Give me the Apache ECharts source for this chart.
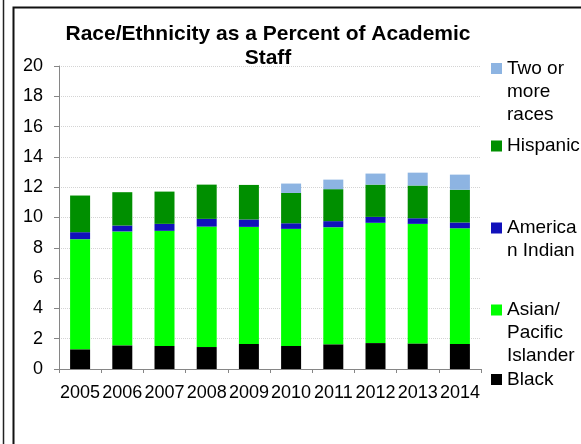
<!DOCTYPE html>
<html>
<head>
<meta charset="utf-8">
<script src="https://cdn.jsdelivr.net/npm/echarts@6/dist/echarts.min.js"></script>
<style>
  html, body { margin: 0; padding: 0; background: #fff; }
  #main { width: 581px; height: 444px; }
</style>
</head>
<body>
<div id="main"></div>
<script>
// data
const years = ['2005', '2006', '2007', '2008', '2009', '2010', '2011', '2012', '2013', '2014'];
const black = [1.30, 1.56, 1.52, 1.45, 1.65, 1.52, 1.63, 1.71, 1.69, 1.65];
const asian = [7.27, 7.52, 7.60, 7.95, 7.73, 7.73, 7.73, 7.94, 7.89, 7.64];
const amIndian = [0.46, 0.39, 0.46, 0.51, 0.49, 0.37, 0.40, 0.39, 0.37, 0.38];
const hispanic = [2.42, 2.20, 2.13, 2.26, 2.28, 2.00, 2.11, 2.13, 2.16, 2.16];
const twoOrMore = [null, null, null, null, null, 0.62, 0.63, 0.73, 0.85, 1.00];
const yTicks = { min: 0, max: 20, interval: 2 };

const font = 'Liberation Sans, Arial, sans-serif';
const colors = {
  black: '#000000',
  asian: '#00ff00',
  amIndian: '#1111bb',
  hispanic: '#008f00',
  two: '#8db4e2'
};

function bar(name, data, color) {
  return {
    name: name,
    type: 'bar',
    stack: 'total',
    barWidth: 20,
    data: data,
    itemStyle: { color: color }
  };
}

// one legend per entry; the icon box is made taller so the square
// lines up with the first line of a wrapped label
const legendItems = [
  { name: 'Two or more races', label: 'Two or\nmore\nraces', lines: 3, cy: 68.5 },
  { name: 'Hispanic', label: 'Hispanic', lines: 1, cy: 146 },
  { name: 'American Indian', label: 'America\nn Indian', lines: 2, cy: 228 },
  { name: 'Asian/Pacific Islander', label: 'Asian/\nPacific\nIslander', lines: 3, cy: 310 },
  { name: 'Black', label: 'Black', lines: 1, cy: 379.5 }
];
const lh = 23;
const sq = 11;
const legends = legendItems.map(function (it) {
  const h = sq + (it.lines - 1) * lh;
  return {
    orient: 'vertical',
    left: 491,
    top: it.cy - lh / 2,
    padding: 0,
    itemWidth: sq,
    itemHeight: h,
    data: [{
      name: it.name,
      icon: 'path://M0,0H' + sq + 'V' + sq + 'H0Z M0,' + h + 'L0.001,' + h + 'L0,' + h + 'Z'
    }],
    formatter: function () { return it.label; },
    textStyle: { fontFamily: font, fontSize: 19, color: '#000', lineHeight: lh }
  };
});

const myChart = echarts.init(document.getElementById('main'));
const option = {
  backgroundColor: '#fff',
  animation: false,
  title: {
    text: 'Race/Ethnicity as a Percent of Academic\nStaff',
    left: 268,
    top: 22,
    textAlign: 'center',
    padding: 0,
    textStyle: { fontFamily: font, fontSize: 21, fontWeight: 'bold', color: '#000', lineHeight: 24 }
  },
  legend: legends,
  grid: { left: 59, right: 100, top: 66, bottom: 75 },
  xAxis: {
    type: 'category',
    data: years,
    axisLine: { lineStyle: { color: '#868686', width: 1 } },
    axisTick: { show: true, length: 4, lineStyle: { color: '#868686' } },
    axisLabel: { interval: 0, margin: 15, fontFamily: font, fontSize: 18, color: '#000' }
  },
  yAxis: {
    type: 'value',
    min: yTicks.min,
    max: yTicks.max,
    interval: yTicks.interval,
    axisLine: { show: true, lineStyle: { color: '#868686', width: 1 } },
    axisTick: { show: true, length: 5, lineStyle: { color: '#868686' } },
    axisLabel: { margin: 16, fontFamily: font, fontSize: 18, color: '#000' },
    splitLine: { show: true, lineStyle: { color: '#d4d4d4', type: 'dotted', width: 1 } }
  },
  graphic: [
    { type: 'line', shape: { x1: 3.5, y1: 0, x2: 3.5, y2: 444 }, style: { stroke: '#222', lineWidth: 1.5 } },
    { type: 'polyline', shape: { points: [[13.5, 444], [13.5, 7.5], [581, 7.5]] }, style: { stroke: '#111', lineWidth: 2, fill: null } }
  ],
  series: [
    bar('Black', black, colors.black),
    bar('Asian/Pacific Islander', asian, colors.asian),
    bar('American Indian', amIndian, colors.amIndian),
    bar('Hispanic', hispanic, colors.hispanic),
    bar('Two or more races', twoOrMore, colors.two)
  ]
};
myChart.setOption(option);
</script>
</body>
</html>
